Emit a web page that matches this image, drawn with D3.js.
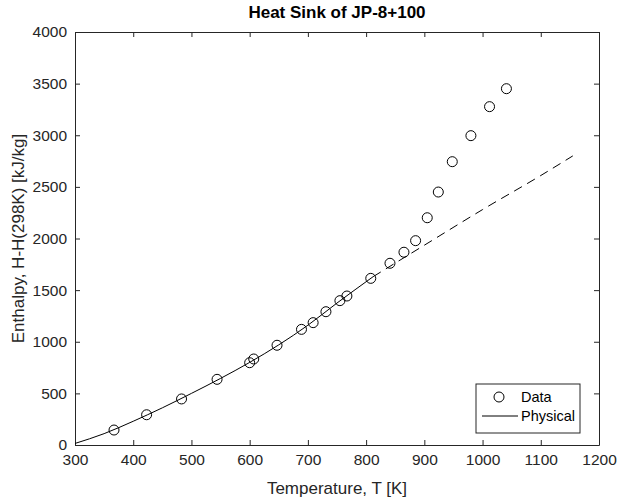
<!DOCTYPE html>
<html>
<head>
<meta charset="utf-8">
<script src="https://cdn.jsdelivr.net/npm/d3@7"></script>
<style>
  html, body { margin: 0; padding: 0; background: #fff; }
  svg { display: block; font-family: "Liberation Sans", Arial, sans-serif; }
</style>
</head>
<body>
<div id="container"></div>
<script>
/* ---------------- DATA ---------------- */
const dataT = [367, 423, 483, 544, 600, 607, 647, 689, 709, 731, 755, 767, 808, 841, 865, 885, 905, 924, 948, 980, 1012, 1041];
const dataH = [145, 293, 446, 636, 797, 833, 966, 1120, 1185, 1291, 1398, 1443, 1614, 1760, 1867, 1979, 2201, 2450, 2744, 2996, 3277, 3451];

// physical model, solid part then dashed extrapolation
const physT = [300, 350, 400, 450, 500, 550, 600, 650, 700, 750, 812];
const physH = [15, 110, 230, 360, 500, 645, 800, 970, 1160, 1375, 1630];
const extT = [812, 900, 1000, 1100, 1155];
const extH = [1630, 1935, 2280, 2610, 2800];

const xTicks = [300, 400, 500, 600, 700, 800, 900, 1000, 1100, 1200];
const yTicks = [0, 500, 1000, 1500, 2000, 2500, 3000, 3500, 4000];

const legendItems = ["Data", "Physical"];

/* ---------------- LAYOUT ---------------- */
const W = 617, H = 499;
const m = { left: 75, right: 18, top: 32, bottom: 54 };
const axisColor = "#262626";

const svg = d3.select("#container").append("svg")
  .attr("width", W)
  .attr("height", H);

const x = d3.scaleLinear()
  .domain([300, 1200])
  .range([m.left, W - m.right]);

const y = d3.scaleLinear()
  .domain([0, 4000])
  .range([H - m.bottom, m.top]);

/* ---------------- AXES ---------------- */
const tickLen = 5;
const fmt = d3.format("d");

const xAxis = svg.append("g")
  .attr("transform", `translate(0,${H - m.bottom})`)
  .call(d3.axisBottom(x).tickValues(xTicks).tickFormat(fmt).tickSizeInner(-tickLen).tickSizeOuter(0).tickPadding(9));

const xTop = svg.append("g")
  .attr("transform", `translate(0,${m.top})`)
  .call(d3.axisTop(x).tickValues(xTicks).tickSizeInner(-tickLen).tickSizeOuter(0).tickFormat(""));

const yAxis = svg.append("g")
  .attr("transform", `translate(${m.left},0)`)
  .call(d3.axisLeft(y).tickValues(yTicks).tickFormat(fmt).tickSizeInner(-tickLen).tickSizeOuter(0).tickPadding(8));

const yRight = svg.append("g")
  .attr("transform", `translate(${W - m.right},0)`)
  .call(d3.axisRight(y).tickValues(yTicks).tickSizeInner(-tickLen).tickSizeOuter(0).tickFormat(""));

[xAxis, xTop, yAxis, yRight].forEach(g => {
  g.select(".domain").attr("stroke", axisColor);
  g.selectAll(".tick line").attr("stroke", axisColor);
  g.selectAll(".tick text")
    .attr("fill", axisColor)
    .style("font-size", "15.5px");
});

/* ---------------- LINES ---------------- */
const line = d3.line()
  .x(d => x(d[0]))
  .y(d => y(d[1]))
  .curve(d3.curveMonotoneX);

svg.append("path")
  .datum(d3.zip(physT, physH))
  .attr("d", line)
  .attr("fill", "none")
  .attr("stroke", "#000")
  .attr("stroke-width", 1);

svg.append("path")
  .datum(d3.zip(extT, extH))
  .attr("d", line)
  .attr("fill", "none")
  .attr("stroke", "#000")
  .attr("stroke-width", 1)
  .attr("stroke-dasharray", "9,6");

/* ---------------- POINTS ---------------- */
svg.selectAll("circle.pt")
  .data(d3.zip(dataT, dataH))
  .enter()
  .append("circle")
  .attr("class", "pt")
  .attr("cx", d => x(d[0]))
  .attr("cy", d => y(d[1]))
  .attr("r", 5)
  .attr("fill", "none")
  .attr("stroke", "#000")
  .attr("stroke-width", 1);

/* ---------------- LABELS ---------------- */
svg.append("text")
  .attr("x", (m.left + W - m.right) / 2)
  .attr("y", 18)
  .attr("text-anchor", "middle")
  .style("font-size", "17px")
  .style("font-weight", "bold")
  .attr("fill", "#000")
  .text("Heat Sink of JP-8+100");

svg.append("text")
  .attr("x", (m.left + W - m.right) / 2)
  .attr("y", 494)
  .attr("text-anchor", "middle")
  .style("font-size", "17px")
  .attr("fill", axisColor)
  .text("Temperature, T [K]");

svg.append("text")
  .attr("transform", "rotate(-90)")
  .attr("x", -(m.top + H - m.bottom) / 2)
  .attr("y", 24)
  .attr("text-anchor", "middle")
  .style("font-size", "17px")
  .attr("fill", axisColor)
  .text("Enthalpy, H-H(298K) [kJ/kg]");

/* ---------------- LEGEND ---------------- */
const lg = svg.append("g").attr("transform", "translate(476,384)");

lg.append("rect")
  .attr("width", 104)
  .attr("height", 49)
  .attr("fill", "#fff")
  .attr("stroke", axisColor)
  .attr("stroke-width", 1);

lg.append("circle")
  .attr("cx", 23)
  .attr("cy", 13)
  .attr("r", 5)
  .attr("fill", "none")
  .attr("stroke", "#000");

lg.append("line")
  .attr("x1", 6).attr("x2", 42)
  .attr("y1", 32).attr("y2", 32)
  .attr("stroke", "#000");

lg.selectAll("text")
  .data(legendItems)
  .enter()
  .append("text")
  .attr("x", 45)
  .attr("y", (d, i) => 13 + i * 19)
  .attr("dy", "0.35em")
  .style("font-size", "14.5px")
  .attr("fill", "#000")
  .text(d => d);
</script>
</body>
</html>
